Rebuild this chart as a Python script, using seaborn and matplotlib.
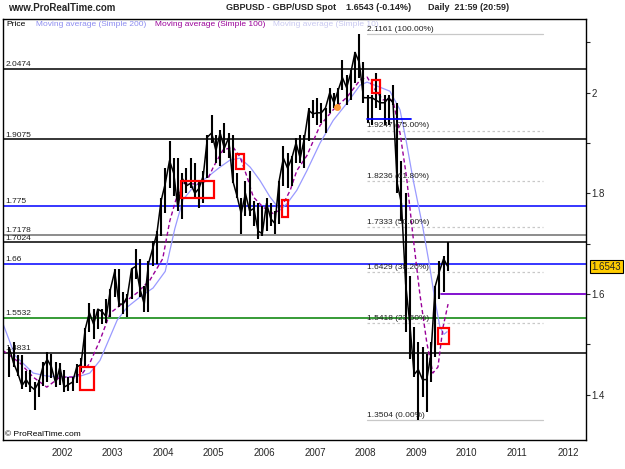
import matplotlib
matplotlib.use("Agg")
import numpy as np
import pandas as pd
import matplotlib.pyplot as plt
import seaborn as sns
from matplotlib.patches import Rectangle

# =========================
# Data (monthly bars Dec 2000 - Aug 2009)
# =========================
months = pd.period_range("2000-12", "2009-08", freq="M")

high = [1.4950,
        1.5050, 1.4780, 1.4780, 1.4480, 1.4500, 1.4250, 1.4300, 1.4640, 1.4850, 1.4800, 1.4650, 1.4620,
        1.4500, 1.4350, 1.4350, 1.4600, 1.4720, 1.5330, 1.5820, 1.5700, 1.5710, 1.5700, 1.5900, 1.6100,
        1.6500, 1.6500, 1.6050, 1.6000, 1.6500, 1.6900, 1.6700, 1.6150, 1.6650, 1.7050, 1.7250, 1.7900,
        1.8500, 1.9050, 1.8700, 1.8700, 1.8400, 1.8500, 1.8700, 1.8600, 1.8250, 1.8450, 1.9150, 1.9550,
        1.9150, 1.9250, 1.9400, 1.9200, 1.9150, 1.8400, 1.7900, 1.8250, 1.8450, 1.7850, 1.7800, 1.7750,
        1.7900, 1.7800, 1.7650, 1.8250, 1.8950, 1.8800, 1.8750, 1.9100, 1.9150, 1.9150, 1.9700, 1.9850,
        1.9900, 1.9800, 1.9700, 2.0100, 2.0000, 2.0100, 2.0650, 2.0350, 2.0450, 2.0800, 2.1161, 2.0600,
        1.9950, 1.9950, 2.0400, 2.0000, 1.9950, 1.9950, 2.0150, 1.9800, 1.8650, 1.8000, 1.6350, 1.5350,
        1.5050, 1.4950, 1.4800, 1.5050, 1.6150, 1.6650, 1.6750, 1.7040]

low = [1.4350,
       1.4550, 1.4380, 1.4120, 1.4150, 1.4050, 1.3690, 1.3950, 1.4180, 1.4250, 1.4330, 1.4150, 1.4200,
       1.4050, 1.4080, 1.4080, 1.4230, 1.4450, 1.4550, 1.5250, 1.5100, 1.5300, 1.5400, 1.5420, 1.5550,
       1.5950, 1.5750, 1.5600, 1.5550, 1.5900, 1.6300, 1.5950, 1.5650, 1.5650, 1.6550, 1.6600, 1.7150,
       1.7600, 1.8100, 1.7950, 1.7650, 1.7500, 1.8000, 1.8100, 1.7900, 1.7700, 1.7800, 1.8300, 1.9000,
       1.8600, 1.8550, 1.8800, 1.8700, 1.8200, 1.7900, 1.7200, 1.7550, 1.7550, 1.7350, 1.7100, 1.7150,
       1.7250, 1.7350, 1.7200, 1.7400, 1.8150, 1.8100, 1.8150, 1.8600, 1.8600, 1.8500, 1.9050, 1.9500,
       1.9350, 1.9400, 1.9200, 1.9600, 1.9700, 1.9650, 2.0050, 1.9750, 1.9850, 2.0200, 2.0300, 1.9800,
       1.9400, 1.9350, 1.9700, 1.9650, 1.9350, 1.9350, 1.9750, 1.8000, 1.7450, 1.5250, 1.4700, 1.4350,
       1.3504, 1.3950, 1.3650, 1.4250, 1.4750, 1.5900, 1.6050, 1.6450]

close = [1.4930,
         1.4630, 1.4430, 1.4180, 1.4300, 1.4170, 1.4100, 1.4250, 1.4560, 1.4700, 1.4550, 1.4230, 1.4550,
         1.4150, 1.4200, 1.4250, 1.4550, 1.4600, 1.5300, 1.5630, 1.5400, 1.5700, 1.5650, 1.5550, 1.6100,
         1.6450, 1.5800, 1.5800, 1.5950, 1.6500, 1.6550, 1.6100, 1.5800, 1.6600, 1.6900, 1.7200, 1.7850,
         1.8200, 1.8650, 1.8400, 1.7700, 1.8300, 1.8150, 1.8200, 1.8000, 1.8100, 1.8350, 1.9120, 1.9200,
         1.8850, 1.9200, 1.8900, 1.9100, 1.8250, 1.7950, 1.7600, 1.8000, 1.7650, 1.7700, 1.7250, 1.7200,
         1.7800, 1.7500, 1.7400, 1.8250, 1.8700, 1.8500, 1.8700, 1.9000, 1.8700, 1.9100, 1.9650, 1.9580,
         1.9600, 1.9600, 1.9700, 2.0000, 1.9800, 2.0050, 2.0300, 2.0100, 2.0400, 2.0800, 2.0600, 1.9900,
         1.9900, 1.9900, 1.9850, 1.9800, 1.9800, 1.9900, 1.9800, 1.8200, 1.7800, 1.6200, 1.5400, 1.4400,
         1.4500, 1.4300, 1.4300, 1.4800, 1.6150, 1.6450, 1.6700, 1.6543]

# moving averages (decimal year, price)
ma200_t = [2000.83, 2001.07, 2001.43, 2001.70, 2002.10, 2002.36, 2002.55, 2002.75, 2002.95, 2003.09,
           2003.29, 2003.54, 2003.80, 2004.04, 2004.23, 2004.39, 2004.59, 2004.87, 2005.12, 2005.32,
           2005.52, 2005.72, 2005.91, 2006.11, 2006.31, 2006.45, 2006.64, 2006.84, 2007.10, 2007.36,
           2007.63, 2007.89, 2008.03, 2008.28, 2008.48, 2008.68, 2008.81, 2008.93, 2009.13, 2009.27,
           2009.37, 2009.47, 2009.55, 2009.61]
ma200_v = [1.542, 1.478, 1.443, 1.437, 1.435, 1.437, 1.443, 1.468, 1.515, 1.548,
           1.574, 1.594, 1.612, 1.645, 1.730, 1.787, 1.812, 1.832, 1.852, 1.866,
           1.870, 1.852, 1.826, 1.793, 1.767, 1.780, 1.806, 1.845, 1.900, 1.945,
           1.979, 2.015, 2.021, 2.011, 2.003, 1.966, 1.900, 1.832, 1.733, 1.653,
           1.588, 1.534, 1.520, 1.525]

ma100_t = [2000.83, 2001.17, 2001.43, 2001.70, 2001.96, 2002.22, 2002.41, 2002.55, 2002.75, 2002.95,
           2003.21, 2003.48, 2003.74, 2003.99, 2004.13, 2004.25, 2004.39, 2004.72, 2004.87, 2004.99,
           2005.18, 2005.38, 2005.52, 2005.66, 2005.78, 2005.97, 2006.17, 2006.31, 2006.51, 2006.64,
           2006.84, 2007.10, 2007.36, 2007.63, 2007.89, 2008.03, 2008.15, 2008.34, 2008.54, 2008.68,
           2008.81, 2008.93, 2009.07, 2009.21, 2009.33, 2009.43, 2009.53, 2009.63]
ma100_v = [1.488, 1.463, 1.435, 1.415, 1.435, 1.435, 1.443, 1.463, 1.508, 1.562,
           1.582, 1.602, 1.628, 1.670, 1.745, 1.787, 1.820, 1.818, 1.826, 1.852,
           1.886, 1.892, 1.872, 1.832, 1.793, 1.773, 1.760, 1.767, 1.806, 1.845,
           1.875, 1.935, 1.966, 1.991, 2.025, 2.031, 2.011, 1.986, 1.985, 1.920,
           1.832, 1.721, 1.602, 1.503, 1.443, 1.455, 1.534, 1.580]

# support / resistance levels
levels = [2.0474, 1.9075, 1.775, 1.7178, 1.7024, 1.66, 1.5532, 1.4831]
level_labels = ["2.0474", "1.9075", "1.775", "1.7178", "1.7024", "1.66", "1.5532", "1.4831"]
level_colors = ["black", "black", "#0000ff", "#6e6e6e", "black", "#0000ff", "#008000", "black"]

# fibonacci retracement
fib_values = [2.1161, 1.9247, 1.8236, 1.7333, 1.6429, 1.5418, 1.3504]
fib_pcts = ["100.00%", "75.00%", "61.80%", "50.00%", "38.20%", "23.60%", "0.00%"]

# red boxes drawn on the chart: (start, end, low, high)
box_t0 = [2002.36, 2004.35, 2005.44, 2006.35, 2008.13, 2009.43]
box_t1 = [2002.63, 2005.00, 2005.60, 2006.47, 2008.29, 2009.65]
box_lo = [1.409, 1.791, 1.848, 1.753, 1.999, 1.501]
box_hi = [1.455, 1.825, 1.878, 1.787, 2.025, 1.533]

years = list(range(2002, 2013))

df = pd.DataFrame({
    "t": months.year + (months.month - 0.5) / 12,
    "high": high, "low": low, "close": close,
})
ma200 = pd.DataFrame({"t": ma200_t, "v": ma200_v})
ma100 = pd.DataFrame({"t": ma100_t, "v": ma100_v})

# =========================
# Figure
# =========================
sns.set_style("white")
plt.rcParams["font.family"] = ["Liberation Sans", "DejaVu Sans"]

W, H = 625, 469
fig = plt.figure(figsize=(6.25, 4.69), dpi=100)
ax = fig.add_axes([3 / W, 1 - 440 / H, 583 / W, 421 / H])

T0, T1 = 2000.834, 2012.356
ax.set_xlim(T0, T1)
ax.set_ylim(1.310, 2.1464)

# horizontal levels
for v, lab, c in zip(levels, level_labels, level_colors):
    ax.axhline(v, color=c, lw=1.1, zorder=1)
    ax.annotate(lab, xy=(T0, v), xytext=(2, 0.5), textcoords="offset points",
                fontsize=6, va="bottom", ha="left", color="#202020")

# fibonacci lines
for v, p in zip(fib_values, fib_pcts):
    ls = "-" if p in ("100.00%", "0.00%") else (0, (2, 2))
    ax.plot([2008.03, 2011.51], [v, v], color="#c8c8c8", lw=0.9, ls=ls, zorder=1)
    ax.annotate(f"{v:.4f} ({p})", xy=(2008.03, v), xytext=(0, 0.8), textcoords="offset points",
                fontsize=6, va="bottom", ha="left", color="#202020", zorder=5)

# short segments
ax.plot([2008.03, 2008.90], [1.948, 1.948], color="#0000ff", lw=1.3, zorder=4)
ax.plot([2009.49, T1], [1.6, 1.6], color="#7a00cc", lw=1.3, zorder=4)

# price bars
ax.vlines(df["t"], df["low"], df["high"], color="black", lw=1.5, zorder=3)
sns.lineplot(data=df, x="t", y="close", ax=ax, color="black", lw=1.1, zorder=3)

# moving averages
sns.lineplot(data=ma200, x="t", y="v", ax=ax, color="#9a9aff", lw=0.9, zorder=2)
sns.lineplot(data=ma100, x="t", y="v", ax=ax, color="#990099", lw=1.0, zorder=2)
ax.lines[-1].set_dashes((3, 2))

# red boxes
for a, b, lo, hi in zip(box_t0, box_t1, box_lo, box_hi):
    ax.add_patch(Rectangle((a, lo), b - a, hi - lo, fill=False, ec="#ff0000", lw=1.6, zorder=6))

ax.plot([2007.435], [1.9715], marker="o", ms=4, color="#ff9933", mec="#ff9933", zorder=6)

# axes styling
for s in ax.spines.values():
    s.set_color("black")
    s.set_linewidth(1.0)
ax.set_xlabel("")
ax.set_ylabel("")
ax.yaxis.tick_right()
ax.set_yticks([1.4, 1.6, 1.8, 2.0])
ax.set_yticklabels(["1.4", "1.6", "1.8", "2"])
ax.set_yticks([1.5, 1.7, 1.9, 2.1], minor=True)
ax.tick_params(axis="y", which="both", direction="out", length=3, width=0.8,
               labelsize=7, pad=1, right=True, left=False)
ax.set_xticks(years)
ax.set_xticklabels([str(y) for y in years])
ax.tick_params(axis="x", length=0, labelsize=7, pad=6)

# current price label
ax.annotate("1.6543", xy=(1.0, 1.6543), xycoords=("axes fraction", "data"),
            xytext=(4, 0), textcoords="offset points", fontsize=7, ha="left", va="center",
            bbox=dict(boxstyle="square,pad=0.15", fc="#ffcc00", ec="black", lw=0.8))

# header and legend texts
fig.text(8 / W, 1 - 8 / H, "www.ProRealTime.com", fontsize=7, fontweight="bold", va="center")
fig.text(226 / W, 1 - 8 / H, "GBPUSD - GBP/USD Spot", fontsize=6.5, fontweight="bold", va="center")
fig.text(346 / W, 1 - 8 / H, "1.6543 (-0.14%)", fontsize=6.5, fontweight="bold", va="center")
fig.text(428 / W, 1 - 8 / H, "Daily  21:59 (20:59)", fontsize=6.5, fontweight="bold", va="center")
fig.text(6 / W, 1 - 25 / H, "Price", fontsize=6, va="center", color="black")
fig.text(36 / W, 1 - 25 / H, "Moving average (Simple 200)", fontsize=6, va="center", color="#8c8cf0")
fig.text(155 / W, 1 - 25 / H, "Moving average (Simple 100)", fontsize=6, va="center", color="#990099")
fig.text(273 / W, 1 - 25 / H, "Moving average (Simple 10)", fontsize=6, va="center", color="#c8c8f0")
fig.text(5 / W, 1 - 434 / H, "\u00a9 ProRealTime.com", fontsize=6, va="center", color="black")

fig.savefig("out.png", dpi=100)
